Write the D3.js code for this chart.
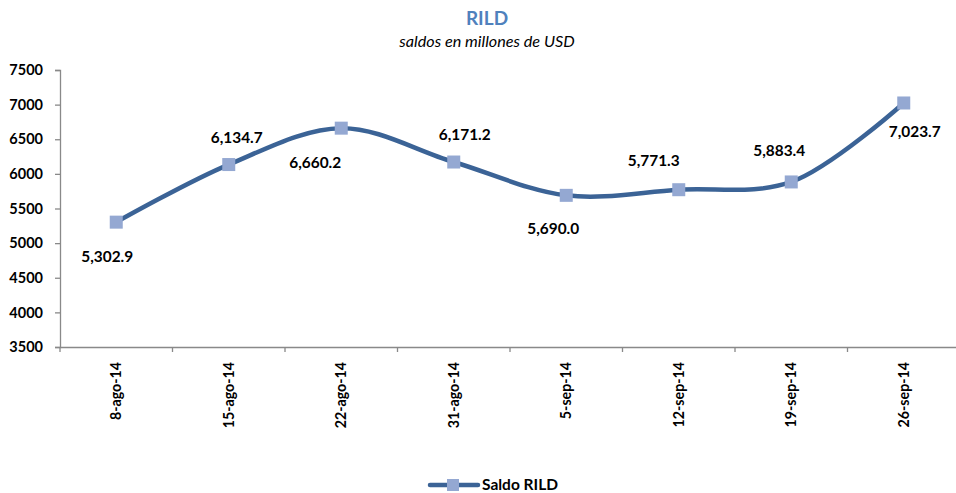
<!DOCTYPE html>
<html><head><meta charset="utf-8">
<script src="https://cdn.jsdelivr.net/npm/d3@7"></script>
<style>body{margin:0;background:#fff}svg{display:block}text{font-family:Lato,"Open Sans",sans-serif}</style>
</head><body>
<svg id="c" width="956" height="493"></svg>
<script>
const categories = ["8-ago-14","15-ago-14","22-ago-14","31-ago-14","5-sep-14","12-sep-14","19-sep-14","26-sep-14"];
const values = [5302.9, 6134.7, 6660.2, 6171.2, 5690.0, 5771.3, 5883.4, 7023.7];
const yTicks = [3500,4000,4500,5000,5500,6000,6500,7000,7500];
const seriesName = "Saldo RILD";

(function(){
const svg = d3.select("#c");
const mLeft = 60, mRight = 960, mTop = 70, mBottom = 347;
const x = d3.scaleBand().domain(categories).range([mLeft, mRight]);
const y = d3.scaleLinear().domain([3500, 7500]).range([mBottom, mTop]);
const axisColor = "#898989";
const lineColor = "#3B6396";
const markerFill = "#94A8D2";
// label nudges (pixels) relative to each marker, as placed in the original
const labelNudge = [[-9,34],[8,-27],[-26,34],[11,-27],[-13,33],[-25,-29],[-12,-31],[11,29]];

svg.append("text").attr("x", 487).attr("y", 25).attr("text-anchor","middle")
  .attr("font-weight","bold").attr("font-size",19).attr("fill","#4F81BD").text("RILD");
svg.append("text").attr("x", 487).attr("y", 47).attr("text-anchor","middle")
  .attr("font-style","italic").attr("font-size",16.2).attr("fill","#000").text("saldos en millones de USD");

const ya = svg.append("g").attr("transform",`translate(${mLeft},0)`)
  .call(d3.axisLeft(y).tickValues(yTicks).tickSize(5).tickPadding(12).tickFormat(d3.format("d")));
ya.select(".domain").attr("stroke",axisColor).attr("stroke-width",1.3);
ya.selectAll(".tick line").attr("stroke",axisColor).attr("stroke-width",1.3);
ya.selectAll("text").attr("font-weight","bold").attr("font-size",14.5).attr("fill","#000");

const xa = svg.append("g").attr("transform",`translate(0,${mBottom})`)
  .call(d3.axisBottom(x).tickSize(0).tickFormat(d=>d));
xa.select(".domain").attr("stroke",axisColor).attr("stroke-width",1.3);
xa.selectAll(".tick text").attr("transform","rotate(-90)").attr("text-anchor","end")
  .attr("x",-15).attr("y",0).attr("dy","0.35em")
  .attr("font-weight","bold").attr("font-size",14.2).attr("fill","#000");
const boundaries = categories.map(c => x(c)).concat([x(categories[categories.length-1]) + x.bandwidth()]);
svg.append("g").selectAll("line").data(boundaries).join("line")
  .attr("x1",d=>d).attr("x2",d=>d).attr("y1",mBottom).attr("y2",mBottom+5)
  .attr("stroke",axisColor).attr("stroke-width",1.3);

const cx = d => x(d) + x.bandwidth()/2;
const pts = categories.map((c,i)=>[cx(c), y(values[i])]);
const line = d3.line().curve(d3.curveCatmullRom.alpha(0.5));
svg.append("path").attr("d", line(pts)).attr("fill","none")
  .attr("stroke",lineColor).attr("stroke-width",4.5).attr("stroke-linecap","round");

const ms = 13;
svg.append("g").selectAll("rect").data(pts).join("rect")
  .attr("x",d=>d[0]-ms/2).attr("y",d=>d[1]-ms/2).attr("width",ms).attr("height",ms)
  .attr("fill",markerFill);

const fmt = d3.format(",.1f");
svg.append("g").selectAll("text").data(values).join("text")
  .attr("x",(d,i)=>cx(categories[i]) + labelNudge[i][0])
  .attr("y",(d,i)=>y(d) + labelNudge[i][1])
  .attr("dy","0.35em").attr("text-anchor","middle")
  .attr("font-weight","bold").attr("font-size",15.4).attr("fill","#000")
  .text(d=>fmt(d));

const lg = svg.append("g");
lg.append("line").attr("x1",430).attr("x2",478).attr("y1",485).attr("y2",485)
  .attr("stroke",lineColor).attr("stroke-width",4.5).attr("stroke-linecap","round");
lg.append("rect").attr("x",453-6).attr("y",485-6).attr("width",12).attr("height",12).attr("fill",markerFill);
lg.append("text").attr("x",482).attr("y",485).attr("dy","0.35em")
  .attr("font-weight","bold").attr("font-size",15.5).attr("fill","#000").text(seriesName);
})();
</script>
</body></html>
